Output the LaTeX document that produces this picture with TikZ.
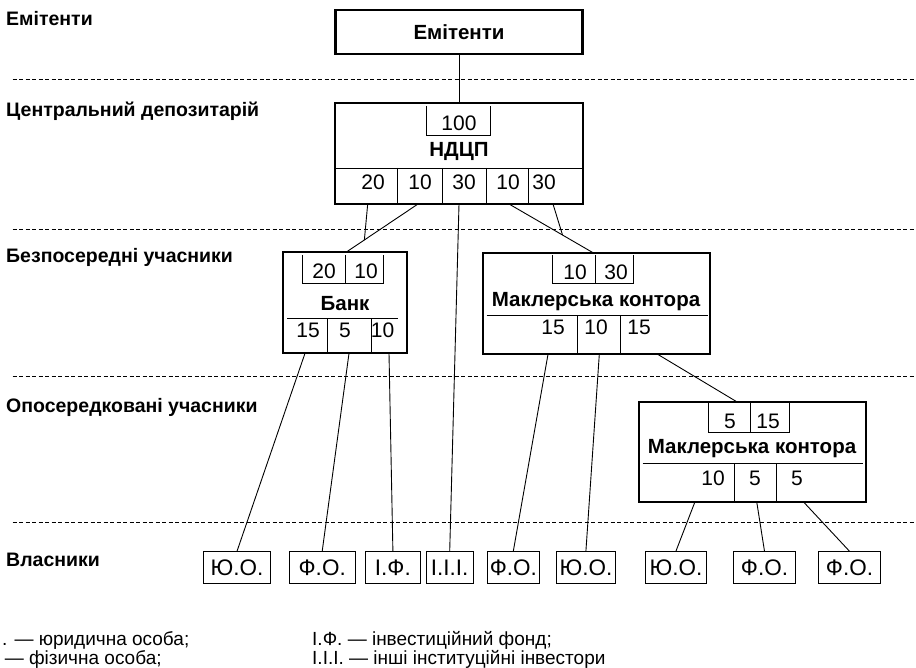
\documentclass[tikz,border=0pt]{standalone}
\usepackage{fontspec}
\setmainfont{Liberation Sans}
\usetikzlibrary{calc}
\tikzset{
	box/.style={draw, line width=2.1pt, inner sep=0pt},
	thin/.style={line width=0.8pt},
	link/.style={line width=0.9pt},
	sep/.style={line width=0.7pt, dash pattern=on 4pt off 2.5pt},
	level/.style={anchor=base west, inner sep=0pt, font=\fontsize{19.5}{22}\selectfont\bfseries},
	num/.style={anchor=base, inner sep=0pt, font=\fontsize{21}{24}\selectfont},
	title/.style={anchor=base, inner sep=0pt, font=\fontsize{20.5}{24}\selectfont\bfseries},
	owner/.style={draw, line width=0.9pt, minimum height=31.6pt, inner sep=0pt, font=\fontsize{22.5}{24}\selectfont},
	note/.style={anchor=base west, inner sep=0pt, font=\fontsize{19}{22}\selectfont},
}

\begin{document}
\begin{tikzpicture}[x=1pt, y=-1pt]
			%%%%% START %%%%%
			\useasboundingbox (0,0) rectangle (916,668);
			
			% levels
			\node[level] (lv1) at (6,26) {Емітенти};
			\node[level] (lv2) at (6,116.5) {Центральний депозитарій};
			\node[level] (lv3) at (6,263) {Безпосередні учасники};
			\node[level] (lv4) at (6,412) {Опосередковані учасники};
			\node[level] (lv5) at (6,566.7) {Власники};
			
			\draw[sep] (12.7,79) -- (916,79);
			\draw[sep] (12.7,229) -- (916,229);
			\draw[sep] (12.7,376) -- (916,376);
			\draw[sep] (12.7,522) -- (916,522);
			
			% emitents
			\node[box, minimum width=247pt, minimum height=44pt, font=\fontsize{20.5}{24}\selectfont\bfseries] (emit) at (459,32) {Емітенти};
			
			% ndcp
			\node[box, minimum width=248pt, minimum height=101.3pt] (ndcp) at (459,153.3) {};
			\draw[thin] (426,106) -- (426,135) -- (490,135) -- (490,106);
			\node[num] (n100) at (459,131) {100};
			\node[title] (tndcp) at (459,157) {НДЦП};
			\draw[thin] (335,168) -- (583,168);
			\foreach \x in {397.5,442,486,528}
				\draw[thin] (\x,168) -- (\x,204);
			\node[num] (nd1) at (373,190) {20};
			\node[num] (nd2) at (420,190) {10};
			\node[num] (nd3) at (464,190) {30};
			\node[num] (nd4) at (508,190) {10};
			\node[num] (nd5) at (544,190) {30};
			
			% bank
			\node[box, minimum width=124pt, minimum height=101pt] (bank) at (345.3,302.8) {};
			\draw[thin] (302,255) -- (302,283.3) -- (383,283.3) -- (383,255);
			\draw[thin] (345.7,255) -- (345.7,283.3);
			\node[num] (bk1) at (324,279) {20};
			\node[num] (bk2) at (366,279) {10};
			\node[title] (tbank) at (345,310.7) {Банк};
			\draw[thin] (287,318.3) -- (398,318.3);
			\draw[thin] (327.7,318.3) -- (327.7,353.3);
			\draw[thin] (371,318.3) -- (371,353.3);
			\node[num] (bk3) at (308,338) {15};
			\node[num] (bk4) at (345,338) {5};
			\node[num] (bk5) at (382.5,338) {10};
			
			% broker 1
			\node[box, minimum width=227.3pt, minimum height=101.6pt] (mk1) at (596.3,303.5) {};
			\draw[thin] (552.3,255) -- (552.3,283.3) -- (633.3,283.3) -- (633.3,255);
			\draw[thin] (595,255) -- (595,283.3);
			\node[num] (ma1) at (575,280) {10};
			\node[num] (ma2) at (616,280) {30};
			\node[title] (tmk1) at (596,306.5) {Маклерська контора};
			\draw[thin] (486.7,315.7) -- (708,315.7);
			\draw[thin] (577.3,315.7) -- (577.3,354.3);
			\draw[thin] (620.7,315.7) -- (620.7,354.3);
			\node[num] (ma3) at (553,335) {15};
			\node[num] (ma4) at (596,335) {10};
			\node[num] (ma5) at (639,335) {15};
			
			% broker 2
			\node[box, minimum width=226.7pt, minimum height=100pt] (mk2) at (752.3,451.7) {};
			\draw[thin] (708.3,403) -- (708.3,432.3) -- (789,432.3) -- (789,403);
			\draw[thin] (750.7,403) -- (750.7,432.3);
			\node[num] (mb1) at (730,428.3) {5};
			\node[num] (mb2) at (768,428.3) {15};
			\node[title] (tmk2) at (752,453.3) {Маклерська контора};
			\draw[thin] (642.7,463.3) -- (863,463.3);
			\draw[thin] (734,463.3) -- (734,501.7);
			\draw[thin] (776.7,463.3) -- (776.7,501.7);
			\node[num] (mb3) at (713,485) {10};
			\node[num] (mb4) at (755,485) {5};
			\node[num] (mb5) at (797,485) {5};
			
			% owners
			\node[owner, minimum width=67.4pt] (o1) at (237,567.5) {Ю.О.};
			\node[owner, minimum width=65.7pt] (o2) at (322.2,567.5) {Ф.О.};
			\node[owner, minimum width=54.3pt] (o3) at (392.9,567.5) {І.Ф.};
			\node[owner, minimum width=47.3pt] (o4) at (449.7,567.5) {І.І.І.};
			\node[owner, minimum width=52pt] (o5) at (513.3,567.5) {Ф.О.};
			\node[owner, minimum width=58.3pt] (o6) at (585.9,567.5) {Ю.О.};
			\node[owner, minimum width=61.7pt] (o7) at (675.9,567.5) {Ю.О.};
			\node[owner, minimum width=62.4pt] (o8) at (764.5,567.5) {Ф.О.};
			\node[owner, minimum width=62.4pt] (o9) at (849.5,567.5) {Ф.О.};
			
			% links
			\coordinate (c20) at (367.7,204);
			\coordinate (c10) at (418,204);
			\coordinate (c30) at (459,204);
			\coordinate (c10b) at (509,204);
			\coordinate (c30b) at (553,204);
			\coordinate (bkin) at (346,252.3);
			\coordinate (m1in) at (593,252.7);
			\coordinate (m2in) at (736.7,401.7);
			\coordinate (j1) at ($(c10)!0.745!(bkin)$);
			\coordinate (j2) at ($(c10b)!0.637!(m1in)$);
			
			\draw[link] (emit.south) -- (ndcp.north);
			\draw[link] (c10) -- (bkin);
			\draw[link] (c20) -- (j1);
			\draw[link] (c30) -- (o4.north);
			\draw[link] (c10b) -- (m1in);
			\draw[link] (c30b) -- (j2);
			
			\coordinate (b15) at (305,353.3);
			\coordinate (b5) at (349,353.3);
			\coordinate (b10) at (389,353.3);
			\draw[link] (b15) -- (o1.north);
			\draw[link] (b5) -- (o2.north);
			\draw[link] (b10) -- (o3.north);
			
			\coordinate (a15) at (548,354.3);
			\coordinate (a10) at (599.3,354.3);
			\coordinate (a15b) at (657.7,354.3);
			\draw[link] (a15) -- (o5.north);
			\draw[link] (a10) -- (o6.north);
			\draw[link] (a15b) -- (m2in);
			
			\coordinate (d10) at (695,501.7);
			\coordinate (d5) at (756.7,501.7);
			\coordinate (d5b) at (803.3,501.7);
			\draw[link] (d10) -- (o7.north);
			\draw[link] (d5) -- (o8.north);
			\draw[link] (d5b) -- (o9.north);
			
			% legend
			\node[note] (leg1) at (2,645) {. — юридична особа;};
			\node[note] (leg2) at (4.6,664) {— фізична особа;};
			\node[note] (leg3) at (312,645) {І.Ф. — інвестиційний фонд;};
			\node[note] (leg4) at (312,664) {І.І.І. — інші інституційні інвестори};
			%%%%% END %%%%%
\end{tikzpicture}
\end{document}
